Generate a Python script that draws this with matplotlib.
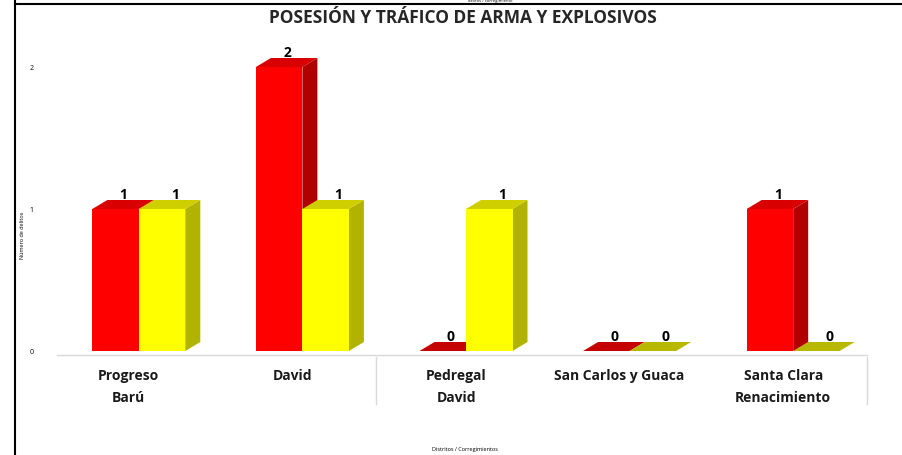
import numpy as np
import matplotlib.pyplot as plt
from matplotlib.patches import Polygon

plt.rcParams['font.family'] = ['Open Sans', 'DejaVu Sans']

# Data
corregimientos = ['Progreso', 'David', 'Pedregal', 'San Carlos y Guaca', 'Santa Clara']
distritos = ['Barú', '', 'David', '', 'Renacimiento']
serie_roja = [1, 2, 0, 0, 1]
serie_amarilla = [1, 1, 1, 0, 0]

fig = plt.figure(figsize=(9.02, 4.56), dpi=100)
W, H = 902, 456

# plot area in pixels: x 57..875, y base at 352, 142 px per unit
ax = fig.add_axes([57 / W, (H - 352) / H, 818 / W, 2.2 * 142 / H])
ax.set_xlim(-0.5, 4.5)
ax.set_ylim(0, 2.2)

px_x = 5 / 818.0    # data units per pixel (x)
px_y = 1 / 142.0    # data units per pixel (y)
dx = 15 * px_x
dy = 9 * px_y
bw = 46.5 * px_x

x = np.arange(len(corregimientos))

def bar3d(x0, h, front, side, top, flat):
    if h > 0:
        ax.add_patch(Polygon([(x0 + bw, 0), (x0 + bw + dx, dy), (x0 + bw + dx, h + dy), (x0 + bw, h)],
                             closed=True, fc=side, ec='none', zorder=3))
        ax.add_patch(Polygon([(x0, h), (x0 + bw, h), (x0 + bw + dx, h + dy), (x0 + dx, h + dy)],
                             closed=True, fc=top, ec='none', zorder=3))
        ax.add_patch(Polygon([(x0, 0), (x0 + bw, 0), (x0 + bw, h), (x0, h)],
                             closed=True, fc=front, ec='none', zorder=3))
    else:
        ax.add_patch(Polygon([(x0, 0), (x0 + bw, 0), (x0 + bw + dx, dy), (x0 + dx, dy)],
                             closed=True, fc=flat, ec='none', zorder=2))

for i in range(len(x)):
    # red first, the yellow front hides the red side
    bar3d(x[i] - bw, serie_roja[i], '#FF0000', '#B00000', '#D80000', '#C40000')
    bar3d(x[i], serie_amarilla[i], '#FFFF00', '#B2B200', '#CFCF00', '#B8B800')

for i in range(len(x)):
    ax.text(x[i] - bw / 2 + 8 * px_x, serie_roja[i] + dy - 1 * px_y, str(serie_roja[i]),
            ha='center', va='bottom', fontsize=10, fontweight='bold', zorder=5)
    ax.text(x[i] + bw / 2 + 13 * px_x, serie_amarilla[i] + dy - 1 * px_y, str(serie_amarilla[i]),
            ha='center', va='bottom', fontsize=10, fontweight='bold', zorder=5)

for s in ax.spines.values():
    s.set_visible(False)
ax.plot([-0.5, 4.45], [-4 * px_y, -4 * px_y], color='#d9d9d9', lw=1, zorder=1, clip_on=False)

ax.set_xticks([])
ax.set_yticks([0, 1, 2])
ax.set_yticklabels(['0', '1', '2'], fontsize=5)
ax.tick_params(axis='y', length=0, pad=17)

# two-level category labels
for i in range(len(x)):
    ax.text(x[i] - 10 * px_x, -0.17, corregimientos[i], ha='center', va='center',
            fontsize=10, fontweight='bold', color='#1a1a1a', clip_on=False)
    if distritos[i]:
        ax.text(x[i] - 10 * px_x, -0.325, distritos[i], ha='center', va='center',
                fontsize=10, fontweight='bold', color='#1a1a1a', clip_on=False)

for xs in [1.45, 4.45]:
    ax.plot([xs, xs], [-6 * px_y, -53 * px_y], color='#d9d9d9', lw=1, clip_on=False)

fig.text(22 / W, 1 - 235 / H, 'Número de delitos', ha='center', va='center',
         rotation=90, fontsize=4)

fig.text(463 / W, 1 - 18 / H, 'POSESIÓN Y TRÁFICO DE ARMA Y EXPLOSIVOS',
         ha='center', va='center', fontsize=12.5, fontweight='bold', color='#262626')
fig.text(465 / W, 1 - 450 / H, 'Distritos / Corregimientos', ha='center', va='center', fontsize=4)

# page frame lines
fig.add_artist(plt.Line2D([15 / W, 15 / W], [0, 1], color='black', lw=1.5))
fig.add_artist(plt.Line2D([15 / W, 1], [1 - 5 / H, 1 - 5 / H], color='black', lw=1.5))
fig.text(490 / W, 1 - 1 / H, 'delitos / corregimiento', ha='center', va='center', fontsize=3)

fig.savefig('out.png', dpi=100)
